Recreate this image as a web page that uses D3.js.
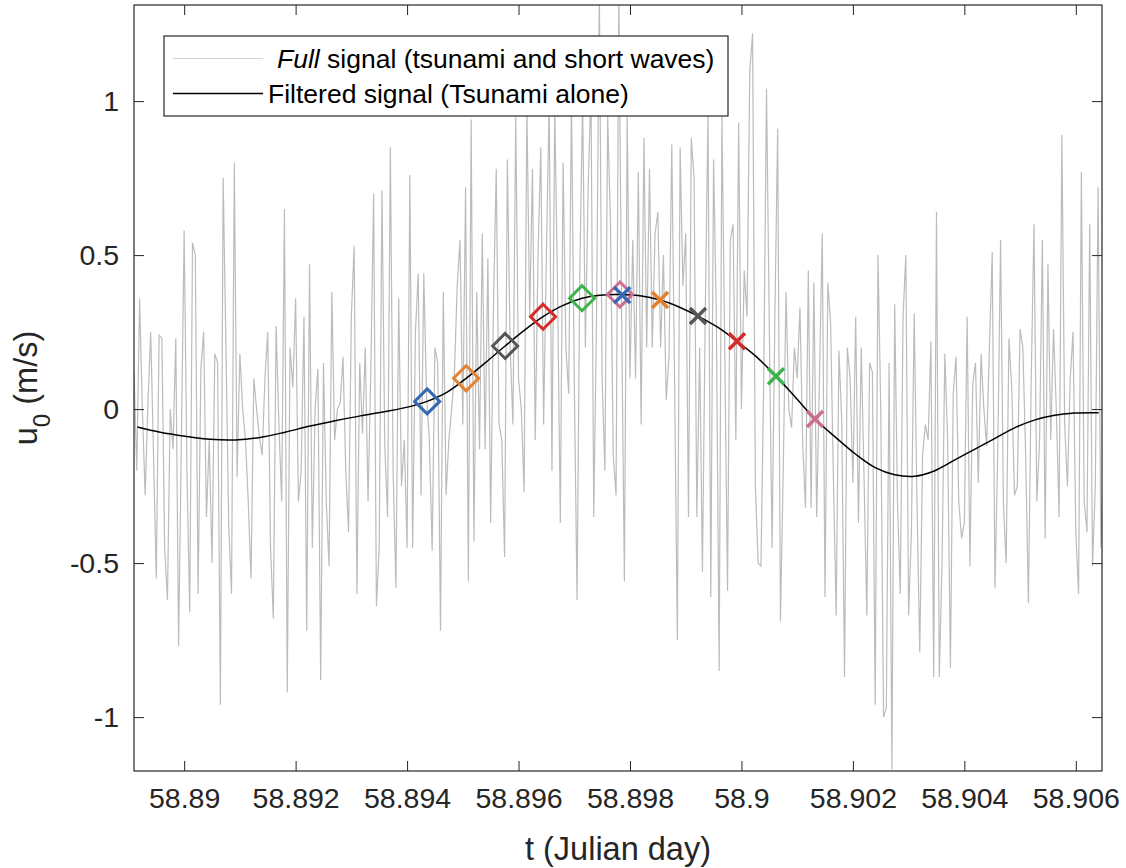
<!DOCTYPE html>
<html>
<head>
<meta charset="utf-8">
<script src="https://cdn.jsdelivr.net/npm/d3@7"></script>
<style>
  body { margin: 0; background: #fff; }
  svg { font-family: "Liberation Sans", Arial, Helvetica, sans-serif; }
</style>
</head>
<body>
<svg id="chart"></svg>
<script>
// full signal: one value every fullStep days, starting at fullStart
const fullStart = 58.8891;
const fullStep = 0.00005;
const fullSignal = [
  0.12,-0.2,0.36,0.0,-0.28,0.02,0.25,-0.15,-0.55,0.24,0.23,-0.45,-0.62,0.0,-0.13,0.23,-0.77,-0.1,0.58,-0.2,-0.66,0.54,0.5,-0.6,0.13,0.25,-0.35,-0.1,-0.5,0.18,0.15,-0.96,0.75,0.2,-0.38,-0.6,0.8,-0.22,0.18,0.0,-0.1,-0.3,-0.55,0.1,0.0,
  -0.09,-0.15,0.1,0.25,-0.45,-0.68,0.27,-0.05,-0.3,0.65,-0.92,0.2,0.07,0.36,-0.3,-0.2,0.3,-0.72,0.47,-0.45,0.0,0.13,-0.88,0.15,-0.3,-0.51,0.38,-0.1,0.0,0.02,0.17,-0.2,-0.4,0.3,0.53,-0.6,0.15,-0.08,0.2,-0.3,0.13,0.7,-0.64,-0.45,0.71,
  -0.12,-0.35,0.85,-0.2,-0.58,0.36,-0.25,-0.1,-0.45,0.76,-0.45,0.25,0.44,-0.28,0.44,0.04,-0.1,-0.46,0.2,0.15,-0.72,0.38,-0.28,-0.1,0.0,0.12,0.4,0.55,-0.05,0.72,-0.56,0.94,-0.43,0.38,-0.13,0.57,-0.13,0.49,-0.37,0.33,0.78,-0.05,-0.1,-0.48,0.81,
  0.2,-0.05,0.95,0.1,0.0,-0.27,0.98,0.3,0.78,-0.1,0.5,0.85,-0.05,0.5,1.0,-0.2,0.98,0.4,-0.37,0.8,0.2,0.05,1.0,0.1,-0.62,0.45,1.0,0.2,0.72,1.05,-0.35,0.3,1.35,0.1,-0.2,0.95,0.6,-0.15,-0.28,1.35,0.3,-0.56,0.95,0.1,0.55,
  0.1,0.77,-0.05,0.88,0.2,0.78,0.2,0.57,0.64,0.2,0.5,0.03,0.17,0.86,0.1,-0.75,0.85,0.4,0.57,-0.35,0.88,0.75,-0.35,0.2,-0.53,0.3,0.96,-0.61,0.81,0.3,-0.85,0.95,0.2,-0.59,0.55,0.6,-0.1,0.93,0.0,0.45,0.3,1.1,1.22,-0.25,-0.5,
  -0.51,0.1,1.04,0.27,-0.45,0.3,0.91,-0.69,-0.2,0.38,0.0,-0.06,0.2,0.1,0.33,-0.12,-0.32,0.45,-0.32,0.41,-0.35,0.1,0.57,-0.61,0.41,0.28,-0.22,-0.67,0.19,-0.04,-0.87,0.2,0.1,-0.24,0.3,-0.37,0.2,-0.22,-0.67,0.15,0.12,-0.96,0.5,0.0,-1.0,
  -0.97,0.15,-1.17,0.34,-0.3,-0.6,0.3,0.5,-0.67,-0.4,0.31,-0.3,-0.79,-0.15,-0.05,-0.1,0.22,-0.87,0.64,-0.87,-0.5,0.18,-0.1,-0.84,0.05,0.17,-0.3,-0.42,-0.37,0.3,-0.51,0.08,0.15,-0.24,0.18,0.0,-0.12,0.2,0.51,-0.58,-0.13,0.55,-0.3,-0.5,0.23,
  0.07,-0.28,-0.25,0.26,0.2,-0.15,-0.63,0.1,0.6,-0.3,-0.1,0.55,-0.42,0.47,-0.1,0.26,0.0,-0.35,0.89,-0.05,-0.25,0.1,0.25,-0.4,-0.6,0.77,-0.3,-0.4,0.6,-0.51,-0.25,0.72,-0.45,-0.15,-0.48
];

// filtered (tsunami) signal
const filteredT = [58.88916,58.88957,58.89002,58.89047,58.89092,58.89136,58.89181,58.89226,58.89271,58.89316,
  58.89361,58.89405,58.89436,58.89472,58.89506,58.8954,58.89576,58.89612,58.89644,58.89678,58.89714,58.89746,
  58.89782,58.89818,58.89854,58.8989,58.89922,58.89958,58.89992,58.90028,58.90062,58.90096,58.90132,58.90168,
  58.90204,58.9024,58.90275,58.90311,58.90347,58.90383,58.90419,58.90455,58.90491,58.90527,58.90562,58.90598,58.90641];
const filteredU = [-0.058,-0.075,-0.088,-0.098,-0.1,-0.092,-0.075,-0.055,-0.038,-0.022,
  -0.008,0.008,0.025,0.055,0.1,0.15,0.205,0.258,0.3,0.335,0.36,0.37,
  0.372,0.368,0.354,0.33,0.302,0.265,0.22,0.168,0.107,0.04,-0.032,-0.09,
  -0.145,-0.19,-0.213,-0.218,-0.2,-0.165,-0.13,-0.095,-0.06,-0.035,-0.02,-0.013,-0.012];

// markers on the filtered signal
const diamondT = [58.89436, 58.89506, 58.89576, 58.89644, 58.89714, 58.89782];
const diamondU = [0.025, 0.1, 0.205, 0.3, 0.36, 0.372];
const crossT = [58.89786, 58.89854, 58.89922, 58.89992, 58.90062, 58.90132];
const crossU = [0.37, 0.354, 0.302, 0.22, 0.107, -0.032];
const markerColors = ['#3467b4', '#e3812f', '#555555', '#d42a2a', '#3cb44b', '#cc6d92'];

const xTicks = [58.89, 58.892, 58.894, 58.896, 58.898, 58.9, 58.902, 58.904, 58.906];
const yTicks = [-1, -0.5, 0, 0.5, 1];
const legendLabels = ['Full', 'Filtered signal (Tsunami alone)'];

const width = 1126, height = 868;
const margin = { top: 5, right: 24, bottom: 97, left: 134 };
const innerW = width - margin.left - margin.right;
const innerH = height - margin.top - margin.bottom;
const axisColor = '#262626';
const tickFont = 28.5;

const svg = d3.select('#chart').attr('width', width).attr('height', height);
const chart = svg.append('g').attr('transform', `translate(${margin.left},${margin.top})`);

const xScale = d3.scaleLinear().domain([58.8891, 58.90647]).range([0, innerW]);
const yScale = d3.scaleLinear().domain([-1.175, 1.312]).range([innerH, 0]);

svg.append('defs').append('clipPath').attr('id', 'plot-clip')
  .append('rect').attr('width', innerW).attr('height', innerH);

const plot = chart.append('g').attr('clip-path', 'url(#plot-clip)');

const fullData = fullSignal.map((u, i) => ({ t: fullStart + i * fullStep, u }));
const filteredData = filteredT.map((t, i) => ({ t, u: filteredU[i] }));

plot.append('path')
  .datum(fullData)
  .attr('fill', 'none')
  .attr('stroke', '#bcbcbc')
  .attr('stroke-width', 1.2)
  .attr('d', d3.line().x(d => xScale(d.t)).y(d => yScale(d.u)));

plot.append('path')
  .datum(filteredData)
  .attr('fill', 'none')
  .attr('stroke', '#000')
  .attr('stroke-width', 1.5)
  .attr('d', d3.line().curve(d3.curveCatmullRom).x(d => xScale(d.t)).y(d => yScale(d.u)));

// diamonds
const dSize = 12.5;
plot.selectAll('.diamond')
  .data(diamondT.map((t, i) => ({ t, u: diamondU[i], c: markerColors[i] })))
  .join('path')
  .attr('class', 'diamond')
  .attr('transform', d => `translate(${xScale(d.t)},${yScale(d.u)})`)
  .attr('d', `M0,${-dSize}L${dSize},0L0,${dSize}L${-dSize},0Z`)
  .attr('fill', 'none')
  .attr('stroke', d => d.c)
  .attr('stroke-width', 3);

// crosses
const cSize = 8;
plot.selectAll('.cross')
  .data(crossT.map((t, i) => ({ t, u: crossU[i], c: markerColors[i] })))
  .join('path')
  .attr('class', 'cross')
  .attr('transform', d => `translate(${xScale(d.t)},${yScale(d.u)})`)
  .attr('d', `M${-cSize},${-cSize}L${cSize},${cSize}M${-cSize},${cSize}L${cSize},${-cSize}`)
  .attr('stroke', d => d.c)
  .attr('stroke-width', 3.5);

// axes, ticks pointing inward on all four sides
const fmt = d => String(+d.toFixed(3));
const xAxisG = chart.append('g').attr('transform', `translate(0,${innerH})`)
  .call(d3.axisBottom(xScale).tickValues(xTicks).tickFormat(fmt).tickSizeInner(-10).tickSizeOuter(0).tickPadding(17));
const xTopG = chart.append('g')
  .call(d3.axisTop(xScale).tickValues(xTicks).tickFormat('').tickSizeInner(-10).tickSizeOuter(0));
const yAxisG = chart.append('g')
  .call(d3.axisLeft(yScale).tickValues(yTicks).tickFormat(fmt).tickSizeInner(-10).tickSizeOuter(0).tickPadding(15));
const yRightG = chart.append('g').attr('transform', `translate(${innerW},0)`)
  .call(d3.axisRight(yScale).tickValues(yTicks).tickFormat('').tickSizeInner(-10).tickSizeOuter(0));

[xAxisG, xTopG, yAxisG, yRightG].forEach(g => {
  g.select('.domain').remove();
  g.selectAll('line').attr('stroke', axisColor).attr('stroke-width', 1);
  g.selectAll('text').attr('fill', axisColor).attr('font-size', tickFont).attr('font-family', null);
});

chart.append('rect')
  .attr('width', innerW).attr('height', innerH)
  .attr('fill', 'none').attr('stroke', axisColor).attr('stroke-width', 1.2);

// axis titles
svg.append('text')
  .attr('x', margin.left + innerW / 2).attr('y', 860)
  .attr('text-anchor', 'middle').attr('font-size', 32.5).attr('fill', axisColor)
  .text('t (Julian day)');

const yTitle = svg.append('text')
  .attr('transform', `translate(37,${margin.top + innerH / 2}) rotate(-90)`)
  .attr('text-anchor', 'middle').attr('font-size', 32.5).attr('fill', axisColor);
yTitle.append('tspan').text('u');
yTitle.append('tspan').attr('dy', 13).attr('font-size', 24).text('0');
yTitle.append('tspan').attr('dy', -13).text(' (m/s)');

// legend
const legend = svg.append('g');
legend.append('rect')
  .attr('x', 164).attr('y', 36).attr('width', 564).attr('height', 80)
  .attr('fill', '#fff').attr('stroke', axisColor).attr('stroke-width', 1.2);
legend.append('line').attr('x1', 173).attr('x2', 263).attr('y1', 58.5).attr('y2', 58.5)
  .attr('stroke', '#d4d4d4').attr('stroke-width', 1.2);
legend.append('line').attr('x1', 173).attr('x2', 263).attr('y1', 93.5).attr('y2', 93.5)
  .attr('stroke', '#000').attr('stroke-width', 1.5);
const row1 = legend.append('text').attr('x', 277).attr('y', 68).attr('font-size', 26.5).attr('fill', '#000');
row1.append('tspan').attr('font-style', 'italic').text(legendLabels[0]);
row1.append('tspan').text(' signal (tsunami and short waves)');
legend.append('text').attr('x', 268).attr('y', 103).attr('font-size', 26.5).attr('fill', '#000')
  .text(legendLabels[1]);
</script>
</body>
</html>
